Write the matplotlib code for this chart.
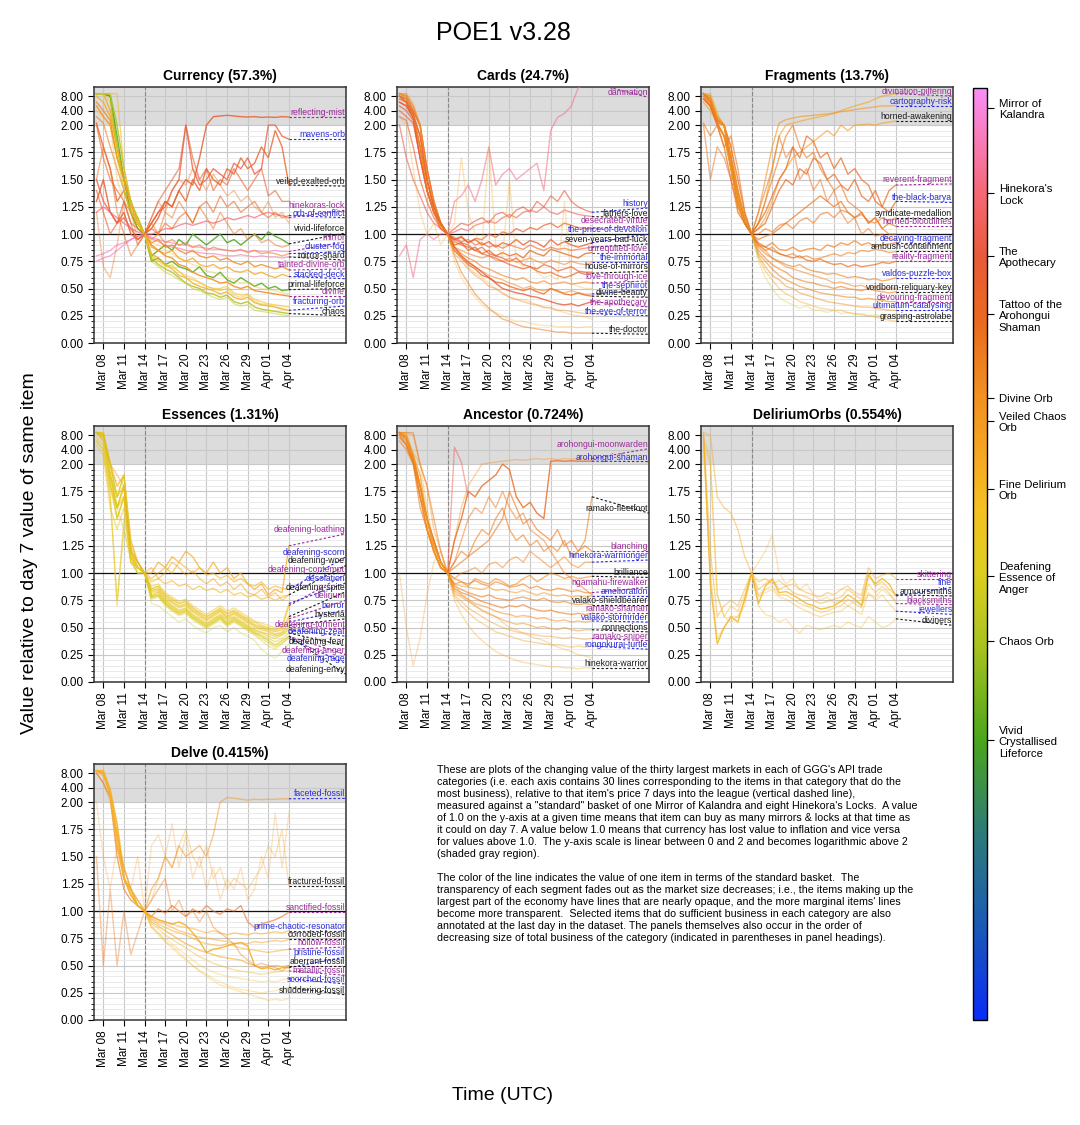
import numpy as np
import matplotlib
matplotlib.use('Agg')
import matplotlib.pyplot as plt
import matplotlib.dates as mdates
from matplotlib.colors import LinearSegmentedColormap, Normalize
from matplotlib.cm import ScalarMappable
from datetime import datetime, timedelta

plt.rcParams['font.family'] = ['Liberation Sans', 'DejaVu Sans']

nan = float('nan')

LEAGUE_START = datetime(2026, 3, 7)
DAYS = list(range(29))  # one value per day, Mar 07 .. Apr 04

panel_titles = ['Currency', 'Cards', 'Fragments', 'Essences', 'Ancestor', 'DeliriumOrbs', 'Delve']
panel_shares = ['57.3%', '24.7%', '13.7%', '1.31%', '0.724%', '0.554%', '0.415%']
label_offsets = [0, 0, 0, 0, 0, 0, 1]

# ---- Currency ----
currency_items = ['reflecting-mist', 'mavens-orb', 'veiled-exalted-orb', 'hinekoras-lock', 'orb-of-conflict',
                  'vivid-lifeforce', 'mirror', 'cluster-fog', 'mirror-shard', 'tainted-divine-orb',
                  'stacked-deck', 'primal-lifeforce', 'divine', 'fracturing-orb', 'chaos',
                  '', '', '', '', '', '', '']
currency_series = [
    [1.3, 1.5, 1.2, 1.1, 1.2, 1.0, 0.95, 1.0, 1.05, 1.15, 1.3, 1.25, 1.4, 1.5, 1.45, 1.7, 2.0, 3.0, 3.1, 3.2, 3.1, 3.0, 2.95, 3.0, 2.9, 2.95, 2.9, 3.0, 2.95],
    [1.5, 1.3, 1.2, 1.1, 1.15, 1.05, 0.95, 1.0, 1.1, 1.2, 1.25, 1.4, 1.5, 2.0, 1.6, 1.45, 1.5, 1.6, 1.55, 1.5, 1.65, 1.6, 1.7, 1.55, 1.6, 2.0, 2.0, 1.9, 1.87],
    [2.2, 1.8, 1.6, 1.3, 1.4, 1.2, 1.05, 1.0, 1.1, 1.2, 1.3, 1.25, 1.4, 1.3, 1.5, 1.4, 1.6, 1.5, 1.45, 1.6, 1.55, 1.7, 1.6, 1.65, 1.8, 1.7, 1.95, 1.8, 1.45],
    [1.2, 1.25, 1.2, 1.15, 1.1, 1.05, 1.02, 1.0, 1.0, 1.02, 1.05, 1.05, 1.08, 1.1, 1.08, 1.1, 1.12, 1.1, 1.12, 1.15, 1.13, 1.15, 1.17, 1.15, 1.18, 1.2, 1.18, 1.17, 1.15],
    [2.0, 1.7, 1.5, 1.4, 1.3, 1.1, 1.05, 1.0, 1.05, 1.0, 1.1, 1.05, 1.15, 1.2, 1.1, 1.25, 1.3, 1.2, 1.35, 1.25, 1.3, 1.2, 1.25, 1.3, 1.2, 1.15, 1.2, 1.15, 1.17],
    [9, 9, 8, 1.8, 1.5, 1.3, 1.1, 1.0, 0.8, 0.85, 0.9, 0.85, 0.95, 0.9, 1.0, 0.95, 0.9, 0.95, 1.0, 0.92, 0.95, 0.9, 0.95, 1.0, 0.95, 1.02, 0.98, 0.95, 0.91],
    [0.75, 0.78, 0.8, 0.85, 0.9, 0.95, 0.98, 1.0, 0.97, 0.95, 0.93, 0.92, 0.9, 0.9, 0.88, 0.88, 0.87, 0.86, 0.86, 0.85, 0.85, 0.85, 0.84, 0.85, 0.84, 0.84, 0.85, 0.84, 0.84],
    [3, 2.2, 1.8, 1.6, 1.4, 1.2, 1.1, 1.0, 0.95, 1.0, 0.92, 0.95, 0.9, 0.92, 0.88, 0.9, 0.85, 0.88, 0.86, 0.85, 0.84, 0.86, 0.83, 0.85, 0.82, 0.83, 0.82, 0.8, 0.82],
    [0.8, 0.82, 0.85, 0.9, 0.92, 0.95, 0.98, 1.0, 0.96, 0.93, 0.9, 0.88, 0.87, 0.85, 0.84, 0.83, 0.82, 0.82, 0.81, 0.8, 0.8, 0.81, 0.8, 0.79, 0.8, 0.79, 0.79, 0.78, 0.79],
    [6, 4, 2.5, 1.7, 1.5, 1.3, 1.1, 1.0, 0.92, 0.95, 0.88, 0.9, 0.85, 0.82, 0.85, 0.8, 0.78, 0.8, 0.76, 0.78, 0.74, 0.72, 0.75, 0.7, 0.72, 0.7, 0.68, 0.7, 0.67],
    [8, 6, 3, 1.8, 1.5, 1.2, 1.15, 1.0, 0.88, 0.85, 0.82, 0.85, 0.78, 0.75, 0.78, 0.72, 0.7, 0.72, 0.68, 0.7, 0.66, 0.65, 0.67, 0.63, 0.65, 0.62, 0.6, 0.63, 0.61],
    [9, 9, 8, 1.9, 1.5, 1.2, 1.05, 1.0, 0.75, 0.78, 0.72, 0.75, 0.7, 0.68, 0.65, 0.7, 0.62, 0.6, 0.65, 0.58, 0.55, 0.6, 0.56, 0.52, 0.55, 0.5, 0.52, 0.48, 0.49],
    [5, 3, 2, 1.7, 1.5, 1.3, 1.1, 1.0, 0.9, 0.85, 0.8, 0.78, 0.72, 0.7, 0.65, 0.62, 0.6, 0.58, 0.55, 0.56, 0.52, 0.5, 0.52, 0.48, 0.47, 0.46, 0.45, 0.44, 0.43],
    [9, 9, 4, 1.8, 1.5, 1.25, 1.1, 1.0, 0.82, 0.78, 0.72, 0.68, 0.62, 0.6, 0.55, 0.52, 0.5, 0.48, 0.45, 0.47, 0.42, 0.4, 0.42, 0.37, 0.35, 0.34, 0.33, 0.31, 0.30],
    [9, 9, 9, 2.0, 1.6, 1.3, 1.15, 1.0, 0.78, 0.72, 0.68, 0.65, 0.6, 0.55, 0.52, 0.5, 0.46, 0.45, 0.42, 0.44, 0.38, 0.36, 0.38, 0.33, 0.31, 0.3, 0.29, 0.28, 0.27],
    [9, 9, 6, 1.8, 1.4, 1.2, 1.1, 1.0, 0.8, 0.75, 0.7, 0.72, 0.65, 0.62, 0.6, 0.55, 0.52, 0.5, 0.48, 0.5, 0.44, 0.42, 0.44, 0.38, 0.36, 0.35, 0.33, 0.32, 0.3],
    [4, 3, 2, 1.5, 1.3, 1.2, 1.05, 1.0, 0.92, 0.9, 0.85, 0.82, 0.78, 0.75, 0.72, 0.7, 0.66, 0.65, 0.62, 0.6, 0.58, 0.55, 0.56, 0.52, 0.5, 0.49, 0.48, 0.46, 0.45],
    [1.2, 0.7, 0.6, 0.9, 1.3, 1.2, 0.95, 1.0, 1.15, 1.3, 1.2, 1.4, 1.5, 1.45, 1.6, 1.5, 1.4, 1.55, 1.45, 1.35, 1.4, 1.3, 1.35, 1.25, 1.2, 1.3, 1.15, 1.2, 1.1],
    [9, 9, 9, 1.7, 1.4, 1.2, 1.1, 1.0, 0.75, 0.7, 0.65, 0.62, 0.58, 0.55, 0.5, 0.48, 0.45, 0.42, 0.4, 0.42, 0.36, 0.34, 0.35, 0.3, 0.29, 0.28, 0.27, 0.26, 0.25],
    [1.4, 1.2, 1.0, 1.1, 1.3, 1.1, 0.9, 1.0, 1.15, 1.3, 1.4, 1.5, 1.6, 2.0, 1.7, 1.5, 1.6, 1.4, 1.5, 1.45, 1.6, 1.5, 1.4, 1.5, 1.6, 1.35, 1.4, 1.3, 1.3],
    [9, 9, 9, 9, 1.6, 1.3, 1.1, 1.0, 0.8, 0.76, 0.72, 0.7, 0.66, 0.6, 0.58, 0.56, 0.52, 0.5, 0.5, 0.52, 0.46, 0.44, 0.45, 0.4, 0.38, 0.36, 0.35, 0.34, 0.33],
    [1.5, 1.8, 1.6, 1.2, 1.0, 0.8, 0.9, 1.0, 1.1, 1.0, 1.2, 1.15, 1.3, 1.2, 1.1, 1.25, 1.15, 1.05, 1.2, 1.1, 1.0, 1.05, 0.95, 1.0, 0.92, 0.95, 0.9, 0.88, 0.9],
]
currency_tone = [0.80, 0.84, 0.78, 0.887, 0.76, 0.30, 0.98, 0.70, 0.93, 0.68, 0.60,
                 0.31, 0.667, 0.62, 0.41, 0.50, 0.58, 0.73, 0.45, 0.79, 0.55, 0.74]
currency_alpha = [0.85, 0.8, 0.8, 0.7, 0.6, 0.85, 0.7, 0.6, 0.6, 0.8, 0.8,
                  0.85, 0.9, 0.75, 0.85, 0.5, 0.35, 0.4, 0.5, 0.6, 0.6, 0.5]
currency_label_y = [2.95, 1.87, 1.44, 1.22, 1.15, 1.01, 0.93, 0.84, 0.76, 0.68, 0.59,
                    0.50, 0.43, 0.34, 0.25, nan, nan, nan, nan, nan, nan, nan]

# ---- Cards ----
cards_items = ['damnation', 'history', 'fathers-love', 'desecrated-virtue', 'the-price-of-devotion',
               'seven-years-bad-luck', 'unrequited-love', 'the-immortal', 'house-of-mirrors',
               'love-through-ice', 'the-sephirot', 'divine-beauty', 'the-apothecary',
               'the-eye-of-terror', 'the-doctor', '', '', '', '']
cards_series = [
    [0.8, 0.9, 0.6, 0.95, 1.0, 0.95, 1.0, 1.0, 1.3, 1.35, 1.45, 1.3, 1.5, 1.8, 1.45, 1.55, 1.6, 1.5, 1.55, 1.6, 1.65, 1.4, 1.95, 2.9, 3.5, 5, 12, 14, 15],
    [4, 3, 2.2, 1.7, 1.4, 1.2, 1.1, 1.0, 1.05, 1.1, 1.08, 1.12, 1.15, 1.1, 1.18, 1.2, 1.15, 1.22, 1.25, 1.2, 1.3, 1.25, 1.35, 1.3, 1.4, 1.3, 1.25, 1.22, 1.2],
    [2, 1.7, 1.5, 1.35, 1.2, 1.1, 1.05, 1.0, 1.02, 1.05, 1.03, 1.08, 1.1, 1.12, 1.1, 1.15, 1.18, 1.15, 1.2, 1.22, 1.2, 1.25, 1.2, 1.18, 1.22, 1.2, 1.18, 1.17, 1.16],
    [6, 5, 3, 1.8, 1.5, 1.25, 1.1, 1.0, 0.95, 0.98, 0.92, 0.96, 0.95, 1.0, 0.97, 1.02, 1.0, 1.05, 1.02, 1.06, 1.04, 1.08, 1.1, 1.06, 1.1, 1.08, 1.06, 1.05, 1.05],
    [8, 7, 4, 2.0, 1.6, 1.3, 1.1, 1.0, 0.95, 0.97, 0.92, 0.95, 0.9, 0.93, 0.88, 0.92, 0.9, 0.95, 0.9, 0.94, 0.92, 0.88, 0.95, 0.9, 0.93, 0.9, 0.88, 0.9, 0.92],
    [3, 2.5, 1.8, 1.5, 1.3, 1.15, 1.05, 1.0, 0.97, 0.93, 0.95, 0.9, 0.92, 0.88, 0.9, 0.87, 0.9, 0.88, 0.86, 0.9, 0.87, 0.85, 0.88, 0.86, 0.87, 0.85, 0.86, 0.87, 0.88],
    [8, 6, 3, 1.9, 1.5, 1.25, 1.1, 1.0, 0.9, 0.92, 0.85, 0.88, 0.82, 0.85, 0.8, 0.83, 0.8, 0.82, 0.78, 0.85, 0.82, 0.8, 0.86, 0.84, 0.82, 0.8, 0.78, 0.82, 0.83],
    [9, 8, 4, 2.0, 1.6, 1.3, 1.1, 1.0, 0.88, 0.85, 0.82, 0.8, 0.78, 0.8, 0.76, 0.75, 0.78, 0.74, 0.76, 0.78, 0.75, 0.73, 0.76, 0.74, 0.72, 0.75, 0.73, 0.72, 0.74],
    [5, 4, 2.5, 1.7, 1.4, 1.2, 1.08, 1.0, 0.93, 0.9, 0.88, 0.85, 0.82, 0.8, 0.78, 0.75, 0.72, 0.7, 0.68, 0.7, 0.66, 0.64, 0.65, 0.62, 0.6, 0.62, 0.65, 0.63, 0.64],
    [9, 7, 3.5, 1.8, 1.4, 1.2, 1.08, 1.0, 0.88, 0.82, 0.78, 0.75, 0.7, 0.68, 0.65, 0.62, 0.6, 0.58, 0.6, 0.56, 0.55, 0.57, 0.54, 0.55, 0.56, 0.54, 0.55, 0.56, 0.55],
    [9, 8, 4, 2.0, 1.5, 1.2, 1.1, 1.0, 0.85, 0.8, 0.75, 0.7, 0.66, 0.62, 0.6, 0.58, 0.55, 0.53, 0.5, 0.52, 0.49, 0.48, 0.5, 0.47, 0.46, 0.48, 0.46, 0.45, 0.45],
    [8, 6, 3, 1.8, 1.4, 1.2, 1.1, 1.0, 0.85, 0.78, 0.72, 0.68, 0.62, 0.6, 0.56, 0.55, 0.52, 0.5, 0.48, 0.5, 0.47, 0.45, 0.5, 0.48, 0.45, 0.44, 0.46, 0.44, 0.43],
    [6, 5, 2.8, 1.7, 1.4, 1.2, 1.05, 1.0, 0.88, 0.8, 0.74, 0.7, 0.65, 0.6, 0.55, 0.5, 0.48, 0.46, 0.45, 0.43, 0.42, 0.4, 0.38, 0.36, 0.35, 0.36, 0.34, 0.36, 0.38],
    [9, 8, 5, 2.0, 1.5, 1.25, 1.1, 1.0, 0.82, 0.75, 0.68, 0.62, 0.58, 0.52, 0.5, 0.46, 0.42, 0.4, 0.38, 0.36, 0.35, 0.33, 0.32, 0.3, 0.3, 0.29, 0.28, 0.27, 0.27],
    [9, 9, 5, 2.0, 1.6, 1.3, 1.1, 1.0, 0.8, 0.65, 0.55, 0.45, 0.38, 0.32, 0.27, 0.22, 0.2, 0.17, 0.15, 0.14, 0.13, 0.12, 0.11, 0.1, 0.1, 0.09, 0.09, 0.09, 0.09],
    [9, 9, 6, 2.0, 1.5, 1.3, 1.1, 1.0, 0.75, 0.6, 0.5, 0.42, 0.35, 0.3, 0.28, 0.25, 0.22, 0.2, 0.2, 0.18, 0.17, 0.16, 0.16, 0.15, 0.15, 0.15, 0.14, 0.15, 0.15],
    [3, 2, 1.6, 1.2, 1.0, 1.1, 0.9, 1.0, 1.1, 1.7, 1.2, 1.0, 0.9, 1.8, 0.9, 0.8, 1.5, 0.75, 0.7, 0.8, 0.65, 0.6, 0.62, 0.58, 1.3, 0.55, 0.52, 0.5, 0.5],
    [9, 8, 3, 1.8, 1.4, 1.2, 1.05, 1.0, 0.85, 0.78, 0.7, 0.64, 0.6, 0.55, 0.5, 0.45, 0.42, 0.4, 0.4, 0.38, 0.35, 0.32, 0.33, 0.3, 0.28, 0.26, 0.25, 0.24, 0.22],
    [7, 6, 3.5, 1.9, 1.5, 1.25, 1.1, 1.0, 0.95, 0.92, 0.9, 0.85, 0.88, 0.82, 0.8, 0.78, 0.75, 0.78, 0.72, 0.7, 0.68, 0.72, 0.7, 0.66, 0.68, 0.7, 0.66, 0.65, 0.65],
]
cards_tone = [0.90, 0.82, 0.85, 0.78, 0.80, 0.80, 0.74, 0.72, 0.78, 0.70,
              0.70, 0.74, 0.82, 0.70, 0.72, 0.58, 0.60, 0.62, 0.80]
cards_alpha = [0.55, 0.6, 0.6, 0.7, 0.8, 0.6, 0.8, 0.5, 0.7, 0.6,
               0.5, 0.8, 0.8, 0.4, 0.5, 0.3, 0.3, 0.3, 0.7]
cards_label_y = [7.5, 1.24, 1.15, 1.08, 1.0, 0.91, 0.83, 0.74, 0.66, 0.57,
                 0.49, 0.42, 0.33, 0.25, 0.08, nan, nan, nan, nan]

# ---- Fragments ----
fragments_items = ['divination-pilfering', 'cartography-risk', 'horned-awakening', 'reverent-fragment',
                   'the-black-barya', 'syndicate-medallion', 'horned-bloodlines', 'decaying-fragment',
                   'ambush-containment', 'reality-fragment', 'valdos-puzzle-box', 'voidborn-reliquary-key',
                   'devouring-fragment', 'ultimatum-catalysing', 'grasping-astrolabe', '', '', '', '']
fragments_series = [
    [9, 6, 3, 2.0, 1.8, 1.4, 1.1, 1.0, 1.1, 1.3, 1.6, 1.9, 2.0, 2.2, 2.4, 2.6, 2.8, 3.0, 3.2, 3.5, 4, 4.5, 5, 5.5, 6, 7, 8, 8.5, 9],
    [8, 5, 2.5, 2.0, 1.7, 1.4, 1.1, 1.0, 1.2, 1.5, 1.8, 2.2, 2.6, 2.8, 3.0, 3.1, 3.2, 3.3, 3.4, 3.6, 3.8, 4.0, 4.2, 4.4, 4.6, 4.8, 5.0, 5.0, 5.1],
    [6, 4, 2.2, 1.9, 1.7, 1.3, 1.1, 1.0, 1.05, 1.15, 1.3, 1.5, 1.6, 1.7, 1.75, 1.8, 1.85, 1.9, 1.95, 1.9, 2.0, 1.95, 2.0, 2.05, 2.1, 2.0, 2.2, 2.3, 2.45],
    [9, 6, 2.5, 2.0, 1.8, 1.5, 1.2, 1.0, 1.1, 1.2, 1.35, 1.5, 1.6, 1.8, 1.7, 1.9, 1.85, 1.7, 1.75, 1.6, 1.7, 1.55, 1.6, 1.5, 1.45, 1.3, 1.25, 1.4, 1.45],
    [7, 5, 2.2, 2.0, 1.7, 1.4, 1.15, 1.0, 1.05, 1.1, 1.25, 1.4, 1.5, 1.45, 1.6, 1.55, 1.7, 1.65, 1.5, 1.55, 1.45, 1.4, 1.5, 1.35, 1.3, 1.4, 1.25, 1.2, 1.3],
    [8, 5, 2, 1.9, 1.6, 1.3, 1.1, 1.0, 1.0, 1.05, 1.02, 1.08, 1.1, 1.05, 1.12, 1.15, 1.1, 1.18, 1.2, 1.15, 1.22, 1.2, 1.15, 1.18, 1.12, 1.1, 1.15, 1.12, 1.15],
    [9, 7, 2.5, 2.0, 1.7, 1.35, 1.15, 1.0, 0.95, 0.98, 1.0, 1.05, 1.1, 1.15, 1.2, 1.25, 1.3, 1.35, 1.3, 1.25, 1.3, 1.2, 1.15, 1.2, 1.1, 1.15, 1.05, 1.1, 1.07],
    [9, 6, 2.2, 1.9, 1.6, 1.3, 1.1, 1.0, 0.9, 0.88, 0.92, 0.86, 0.85, 0.88, 0.84, 0.86, 0.87, 0.85, 0.9, 0.88, 0.92, 0.9, 0.94, 0.9, 0.92, 0.88, 0.9, 0.91, 0.92],
    [9, 7, 2.5, 2.0, 1.6, 1.3, 1.1, 1.0, 0.9, 0.85, 0.88, 0.82, 0.8, 0.82, 0.78, 0.8, 0.77, 0.78, 0.8, 0.82, 0.8, 0.83, 0.82, 0.85, 0.84, 0.86, 0.85, 0.83, 0.84],
    [7, 5, 2, 1.8, 1.5, 1.25, 1.1, 1.0, 0.92, 0.88, 0.85, 0.82, 0.8, 0.78, 0.8, 0.76, 0.75, 0.77, 0.74, 0.72, 0.73, 0.7, 0.72, 0.7, 0.71, 0.72, 0.74, 0.73, 0.75],
    [9, 6, 2.5, 2.0, 1.7, 1.3, 1.1, 1.0, 0.88, 0.82, 0.78, 0.75, 0.72, 0.7, 0.72, 0.68, 0.66, 0.65, 0.63, 0.64, 0.62, 0.6, 0.61, 0.6, 0.58, 0.59, 0.57, 0.58, 0.6],
    [9, 8, 3, 2.0, 1.6, 1.3, 1.1, 1.0, 0.85, 0.78, 0.72, 0.68, 0.65, 0.6, 0.58, 0.56, 0.55, 0.53, 0.52, 0.5, 0.52, 0.5, 0.49, 0.48, 0.5, 0.48, 0.47, 0.46, 0.47],
    [9, 7, 2.8, 2.0, 1.6, 1.3, 1.1, 1.0, 0.82, 0.75, 0.68, 0.62, 0.58, 0.55, 0.52, 0.5, 0.48, 0.46, 0.45, 0.44, 0.43, 0.42, 0.42, 0.4, 0.41, 0.4, 0.39, 0.38, 0.38],
    [9, 8, 3, 2.0, 1.7, 1.35, 1.15, 1.0, 0.8, 0.7, 0.62, 0.58, 0.52, 0.5, 0.46, 0.44, 0.42, 0.4, 0.38, 0.37, 0.36, 0.35, 0.34, 0.33, 0.33, 0.32, 0.31, 0.3, 0.3],
    [9, 9, 3.5, 2.0, 1.7, 1.4, 1.15, 1.0, 0.78, 0.66, 0.58, 0.5, 0.45, 0.42, 0.38, 0.36, 0.34, 0.32, 0.31, 0.3, 0.3, 0.28, 0.27, 0.26, 0.25, 0.24, 0.22, 0.21, 0.2],
    [9, 9, 4, 1.9, 1.6, 1.3, 1.1, 1.0, 0.75, 0.6, 0.5, 0.42, 0.38, 0.35, 0.32, 0.34, 0.3, 0.3, 0.28, 0.3, 0.27, 0.28, 0.26, 0.27, 0.25, 0.26, 0.24, 0.25, 0.25],
    [2, 1.5, 1.8, 1.7, 1.5, 1.2, 1.1, 1.0, 1.2, 1.4, 1.6, 1.9, 1.7, 1.8, 1.5, 1.6, 1.4, 1.5, 1.3, 1.4, 1.2, 1.1, 1.15, 1.0, 1.05, 0.98, 1.0, 0.96, 0.95],
    [2.2, 1.9, 2.0, 1.8, 1.9, 1.6, 1.2, 1.0, 1.1, 1.3, 1.5, 1.7, 1.9, 2.0, 1.8, 1.7, 1.75, 1.6, 1.5, 1.4, 1.45, 1.3, 1.25, 1.2, 1.1, 1.15, 1.05, 1.0, 1.0],
    [9, 6, 2.2, 1.9, 1.7, 1.2, 1.1, 1.0, 0.9, 0.85, 0.78, 0.74, 0.7, 0.68, 0.66, 0.64, 0.62, 0.6, 0.58, 0.55, 0.56, 0.54, 0.52, 0.53, 0.5, 0.52, 0.5, 0.51, 0.5],
]
fragments_tone = [0.62, 0.66, 0.64, 0.75, 0.76, 0.72, 0.72, 0.70, 0.70, 0.74,
                  0.70, 0.70, 0.68, 0.66, 0.62, 0.45, 0.74, 0.72, 0.70]
fragments_alpha = [0.6, 0.6, 0.6, 0.7, 0.7, 0.6, 0.7, 0.7, 0.6, 0.7,
                   0.6, 0.6, 0.6, 0.5, 0.4, 0.3, 0.5, 0.6, 0.5]
fragments_label_y = [8.0, 5.1, 2.45, 1.46, 1.29, 1.15, 1.07, 0.92, 0.84, 0.75,
                     0.60, 0.47, 0.38, 0.30, 0.20, nan, nan, nan, nan]

# ---- Essences ----
essences_items = ['deafening-loathing', 'deafening-scorn', 'deafening-woe', 'deafening-contempt',
                  'desolation', 'deafening-spite', 'delirium', 'horror', 'hysteria',
                  'deafening-torment', 'deafening-zeal', 'deafening-fear', 'deafening-anger',
                  'deafening-rage', 'deafening-envy', '', '']
essences_series = [
    [9, 6, 2.0, 1.8, 1.9, 1.3, 1.1, 1.0, 1.0, 1.1, 1.05, 1.15, 1.1, 1.2, 1.15, 1.05, 1.0, 1.1, 1.0, 1.05, 0.95, 1.0, 0.9, 0.85, 0.9, 0.8, 0.85, 0.82, 1.25],
    [9, 7, 1.9, 1.7, 1.8, 1.2, 1.05, 1.0, 0.95, 1.0, 1.05, 1.0, 1.1, 1.05, 1.0, 1.05, 0.98, 1.0, 0.95, 0.98, 0.92, 0.95, 0.9, 0.88, 0.92, 0.85, 0.88, 0.86, 0.85],
    [9, 8, 1.8, 1.6, 1.7, 1.15, 1.05, 1.0, 0.92, 0.95, 0.9, 0.93, 0.88, 0.9, 0.85, 0.88, 0.84, 0.86, 0.82, 0.85, 0.8, 0.82, 0.78, 0.8, 0.76, 0.78, 0.75, 0.78, 0.8],
    [9, 7, 1.9, 1.5, 1.7, 1.1, 1.05, 1.0, 0.85, 0.88, 0.8, 0.76, 0.72, 0.74, 0.68, 0.64, 0.6, 0.64, 0.68, 0.63, 0.66, 0.62, 0.58, 0.55, 0.52, 0.5, 0.48, 0.5, 0.7],
    [6, 4, 1.7, 0.7, 1.5, 1.2, 1.1, 1.0, 0.88, 0.9, 0.82, 0.78, 0.74, 0.76, 0.7, 0.66, 0.62, 0.66, 0.7, 0.65, 0.68, 0.64, 0.6, 0.56, 0.54, 0.52, 0.5, 0.52, 0.72],
    [9, 8, 1.8, 1.6, 1.8, 1.15, 1.05, 1.0, 0.84, 0.86, 0.78, 0.74, 0.7, 0.72, 0.66, 0.62, 0.58, 0.62, 0.66, 0.6, 0.64, 0.6, 0.56, 0.52, 0.5, 0.48, 0.46, 0.48, 0.6],
    [5, 3, 1.6, 1.4, 1.6, 1.1, 1.05, 1.0, 0.86, 0.88, 0.8, 0.76, 0.72, 0.74, 0.68, 0.63, 0.6, 0.63, 0.67, 0.62, 0.65, 0.61, 0.57, 0.53, 0.51, 0.49, 0.47, 0.5, 0.58],
    [6, 4, 1.7, 0.75, 1.4, 1.15, 1.0, 1.0, 0.83, 0.85, 0.78, 0.73, 0.69, 0.71, 0.65, 0.61, 0.57, 0.61, 0.65, 0.59, 0.63, 0.59, 0.55, 0.51, 0.49, 0.47, 0.44, 0.46, 0.55],
    [7, 5, 1.8, 1.5, 1.7, 1.1, 1.0, 1.0, 0.82, 0.84, 0.76, 0.72, 0.68, 0.7, 0.64, 0.6, 0.56, 0.6, 0.64, 0.58, 0.62, 0.58, 0.54, 0.5, 0.48, 0.46, 0.43, 0.45, 0.52],
    [9, 8, 1.9, 1.6, 1.8, 1.2, 1.05, 1.0, 0.8, 0.83, 0.75, 0.7, 0.66, 0.68, 0.62, 0.58, 0.54, 0.58, 0.62, 0.57, 0.6, 0.56, 0.52, 0.48, 0.46, 0.44, 0.42, 0.44, 0.5],
    [9, 9, 2.0, 1.7, 1.9, 1.2, 1.1, 1.0, 0.79, 0.82, 0.74, 0.69, 0.65, 0.67, 0.61, 0.57, 0.53, 0.57, 0.61, 0.55, 0.59, 0.55, 0.51, 0.47, 0.45, 0.42, 0.4, 0.43, 0.48],
    [9, 8, 1.9, 1.6, 1.8, 1.15, 1.05, 1.0, 0.78, 0.8, 0.73, 0.68, 0.64, 0.66, 0.6, 0.56, 0.52, 0.56, 0.6, 0.54, 0.58, 0.54, 0.5, 0.46, 0.43, 0.4, 0.37, 0.4, 0.45],
    [9, 9, 2.0, 1.7, 1.9, 1.25, 1.1, 1.0, 0.78, 0.8, 0.72, 0.67, 0.63, 0.65, 0.59, 0.55, 0.51, 0.55, 0.59, 0.53, 0.57, 0.53, 0.49, 0.45, 0.42, 0.38, 0.34, 0.38, 0.42],
    [9, 8, 1.9, 1.6, 1.8, 1.2, 1.05, 1.0, 0.77, 0.79, 0.71, 0.66, 0.62, 0.64, 0.58, 0.54, 0.5, 0.54, 0.58, 0.52, 0.56, 0.52, 0.48, 0.44, 0.4, 0.36, 0.32, 0.36, 0.4],
    [9, 7, 1.8, 1.5, 1.7, 1.15, 1.0, 1.0, 0.76, 0.78, 0.7, 0.65, 0.61, 0.63, 0.57, 0.53, 0.49, 0.53, 0.57, 0.51, 0.55, 0.51, 0.47, 0.43, 0.38, 0.33, 0.3, 0.35, 0.42],
    [9, 8, 2.0, 1.9, 1.8, 1.2, 1.1, 1.0, 1.05, 0.95, 1.0, 1.1, 1.05, 0.98, 1.02, 0.95, 0.9, 0.95, 0.88, 0.92, 0.85, 0.9, 0.82, 0.8, 0.85, 0.78, 0.82, 0.75, 0.8],
    [9, 9, 2, 1.6, 1.4, 1.1, 1.0, 1.0, 0.72, 0.7, 0.65, 0.6, 0.55, 0.58, 0.52, 0.48, 0.45, 0.5, 0.52, 0.46, 0.5, 0.45, 0.42, 0.38, 0.3, 0.25, 0.22, 0.28, 0.35],
]
essences_tone = [0.60, 0.58, 0.56, 0.54, 0.52, 0.53, 0.52, 0.51, 0.51, 0.52,
                 0.50, 0.50, 0.476, 0.49, 0.49, 0.62, 0.44]
essences_alpha = [0.7, 0.6, 0.6, 0.6, 0.5, 0.6, 0.5, 0.5, 0.5, 0.6,
                  0.6, 0.5, 0.7, 0.5, 0.4, 0.5, 0.3]
essences_label_y = [1.36, 1.15, 1.07, 0.99, 0.91, 0.83, 0.75, 0.66, 0.58, 0.49,
                    0.42, 0.33, 0.25, 0.17, 0.07, nan, nan]

# ---- Ancestor ----
ancestor_items = ['arohongui-moonwarden', 'arohongui-shaman', 'ramako-fleetfoot', 'blanching',
                  'hinekora-warmonger', 'brilliance', 'ngamahu-firewalker', 'amelioration',
                  'valako-shieldbearer', 'ramako-shaman', 'valako-stormrider', 'connections',
                  'ramako-sniper', 'rongokurai-turtle', 'hinekora-warrior', '', '', '']
ancestor_series = [
    [9, 9, 8, 2.0, 1.8, 1.4, 1.2, 1.0, 1.3, 1.6, 1.8, 1.9, 2.0, 2.1, 2.2, 2.3, 2.4, 2.5, 2.4, 2.5, 2.6, 2.5, 2.6, 2.5, 2.6, 2.55, 2.6, 2.6, 2.6],
    [9, 7, 3, 1.8, 1.5, 1.3, 1.1, 1.0, 1.3, 1.5, 1.75, 1.7, 1.8, 1.85, 1.9, 2.0, 1.95, 1.7, 1.6, 1.65, 1.55, 1.5, 2.3, 2.35, 2.3, 2.35, 2.3, 2.3, 2.3],
    [6, 4, 2, 1.7, 1.5, 1.3, 1.1, 1.0, 1.1, 1.2, 1.15, 1.3, 1.4, 1.35, 1.5, 1.6, 1.4, 1.3, 1.35, 1.25, 1.3, 1.2, 1.25, 1.2, 1.3, 1.15, 1.2, 1.3, 1.7],
    [8, 5, 2.2, 1.8, 1.5, 1.3, 1.1, 1.0, 1.05, 1.1, 1.15, 1.2, 1.25, 1.3, 1.4, 1.5, 1.75, 1.6, 1.45, 1.5, 1.4, 1.35, 1.3, 1.4, 1.25, 1.3, 1.2, 1.25, 1.2],
    [9, 6, 2.5, 1.8, 1.5, 1.25, 1.1, 1.0, 0.95, 1.0, 1.02, 1.05, 1.0, 1.08, 1.1, 1.05, 1.12, 1.15, 1.1, 1.2, 1.15, 1.1, 1.05, 1.1, 1.15, 1.08, 1.05, 1.1, 1.1],
    [9, 7, 2.5, 1.7, 1.4, 1.2, 1.05, 1.0, 0.9, 0.92, 0.88, 0.95, 0.92, 0.9, 0.95, 0.92, 0.88, 0.9, 0.95, 0.98, 0.92, 0.96, 1.0, 0.98, 0.95, 0.97, 0.95, 0.96, 0.97],
    [7, 5, 2, 1.6, 1.4, 1.2, 1.05, 1.0, 0.95, 0.92, 0.9, 0.93, 0.9, 0.88, 0.92, 0.9, 0.87, 0.88, 0.9, 0.86, 0.88, 0.85, 0.84, 0.86, 0.85, 0.83, 0.84, 0.82, 0.82],
    [9, 6, 2.2, 1.7, 1.4, 1.2, 1.05, 1.0, 0.9, 0.88, 0.87, 0.86, 0.85, 0.87, 0.84, 0.85, 0.83, 0.82, 0.84, 0.82, 0.8, 0.82, 0.8, 0.79, 0.8, 0.78, 0.79, 0.78, 0.79],
    [9, 7, 2.5, 1.8, 1.5, 1.25, 1.1, 1.0, 0.88, 0.85, 0.82, 0.8, 0.78, 0.8, 0.77, 0.76, 0.75, 0.77, 0.78, 0.76, 0.75, 0.77, 0.74, 0.73, 0.74, 0.72, 0.71, 0.72, 0.71],
    [8, 5, 2.2, 1.7, 1.4, 1.2, 1.05, 1.0, 0.86, 0.82, 0.8, 0.77, 0.74, 0.72, 0.7, 0.68, 0.7, 0.69, 0.71, 0.68, 0.66, 0.65, 0.66, 0.64, 0.63, 0.62, 0.63, 0.62, 0.63],
    [9, 8, 3, 1.8, 1.5, 1.2, 1.05, 1.0, 0.84, 0.8, 0.76, 0.72, 0.7, 0.68, 0.65, 0.63, 0.62, 0.6, 0.61, 0.6, 0.58, 0.59, 0.57, 0.56, 0.57, 0.55, 0.56, 0.55, 0.56],
    [9, 8, 3, 1.9, 1.5, 1.25, 1.1, 1.0, 0.82, 0.78, 0.74, 0.7, 0.66, 0.63, 0.6, 0.57, 0.55, 0.53, 0.54, 0.52, 0.5, 0.51, 0.49, 0.48, 0.5, 0.48, 0.47, 0.48, 0.48],
    [9, 7, 2.8, 1.8, 1.4, 1.2, 1.05, 1.0, 0.8, 0.74, 0.68, 0.64, 0.6, 0.56, 0.53, 0.5, 0.48, 0.46, 0.45, 0.44, 0.43, 0.42, 0.42, 0.41, 0.4, 0.41, 0.4, 0.39, 0.4],
    [9, 8, 3, 1.9, 1.5, 1.2, 1.05, 1.0, 0.78, 0.7, 0.64, 0.58, 0.54, 0.5, 0.46, 0.44, 0.42, 0.4, 0.38, 0.37, 0.36, 0.35, 0.34, 0.34, 0.33, 0.32, 0.33, 0.32, 0.33],
    [9, 9, 3.5, 2.0, 1.6, 1.25, 1.1, 1.0, 0.75, 0.62, 0.52, 0.44, 0.38, 0.33, 0.28, 0.25, 0.22, 0.2, 0.18, 0.17, 0.16, 0.15, 0.14, 0.14, 0.13, 0.13, 0.12, 0.13, 0.13],
    [nan, nan, nan, nan, nan, nan, nan, 1.0, 4.5, 2.2, 1.7, nan, nan, nan, nan, nan, nan, nan, nan, nan, nan, nan, nan, nan, nan, nan, nan, nan, nan],
    [9, 9, 9, 2.0, 1.8, 1.5, 1.2, 1.0, 1.1, 1.3, 1.5, 1.6, 1.55, 1.7, 1.6, 1.75, 1.6, 1.5, 1.55, 1.4, 1.35, 1.3, 1.2, 1.1, 1.0, 0.95, 0.9, 0.85, 0.8],
    [1.0, 0.5, 0.15, 0.4, 0.8, 1.1, 1.2, 1.0, 0.9, 0.8, 0.75, 0.7, 0.65, 0.62, 0.6, 0.55, 0.5, 0.48, 0.45, 0.42, 0.4, 0.38, 0.35, 0.32, 0.3, 0.28, 0.25, 0.24, 0.22],
]
ancestor_tone = [0.66, 0.757, 0.70, 0.72, 0.70, 0.68, 0.70, 0.66, 0.70, 0.72,
                 0.68, 0.66, 0.66, 0.62, 0.60, 0.86, 0.72, 0.64]
ancestor_alpha = [0.4, 0.8, 0.6, 0.6, 0.5, 0.6, 0.6, 0.5, 0.6, 0.6,
                  0.5, 0.5, 0.4, 0.4, 0.35, 0.5, 0.5, 0.3]
ancestor_label_y = [4.2, 2.26, 1.55, 1.20, 1.12, 0.96, 0.87, 0.79, 0.71, 0.63,
                    0.55, 0.46, 0.38, 0.30, 0.13, nan, nan, nan]

# ---- DeliriumOrbs ----
delirium_items = ['skittering', 'fine', 'armoursmiths', 'blacksmiths', 'jewellers', 'diviners', '']
delirium_series = [
    [9, 8, 1.7, 1.6, 1.55, 1.4, 1.15, 1.0, 0.92, 0.95, 0.9, 0.93, 0.88, 0.9, 0.85, 0.82, 0.8, 0.78, 0.82, 0.8, 0.85, 0.88, 0.82, 0.8, 1.05, 0.95, 0.98, 1.0, 0.95],
    [8, 0.9, 0.35, 0.5, 0.6, 0.55, 0.76, 1.0, 0.72, 0.88, 0.94, 0.82, 0.83, 0.8, 0.76, 0.72, 0.7, 0.67, 0.68, 0.7, 0.74, 0.8, 0.76, 0.7, 0.98, 0.9, 0.95, 0.9, 0.79],
    [9, 1.2, 0.6, 0.7, 0.75, 0.7, 0.85, 1.0, 0.85, 0.9, 0.95, 0.85, 0.88, 0.82, 0.8, 0.78, 0.75, 0.72, 0.74, 0.76, 0.78, 0.85, 0.8, 0.76, 1.0, 0.88, 0.92, 0.85, 0.8],
    [7, 2.5, 0.8, 0.6, 0.7, 0.65, 0.8, 1.0, 0.8, 0.85, 0.88, 0.8, 0.8, 0.76, 0.72, 0.7, 0.67, 0.64, 0.65, 0.68, 0.7, 0.76, 0.72, 0.68, 0.9, 0.82, 0.88, 0.82, 0.72],
    [6, 1.0, 0.4, 0.5, 0.6, 0.6, 0.75, 1.0, 0.78, 0.82, 0.85, 0.78, 0.76, 0.72, 0.68, 0.65, 0.62, 0.6, 0.62, 0.64, 0.65, 0.7, 0.66, 0.62, 0.82, 0.75, 0.8, 0.72, 0.65],
    [5, 2, 0.8, 0.6, 0.55, 0.6, 0.7, 1.0, 0.7, 0.62, 0.6, 0.55, 0.58, 0.5, 0.45, 0.52, 0.5, 0.48, 0.5, 0.52, 0.5, 0.55, 0.52, 0.5, 0.6, 0.55, 0.5, 0.52, 0.58],
    [nan, nan, nan, nan, nan, nan, nan, 1.0, 1.1, 1.2, 1.35, 1.0, 0.9, 0.95, 0.85, 0.9, 0.8, 0.75, 0.78, 0.72, 0.75, 0.7, 0.74, 0.72, 0.8, 0.78, 0.85, 0.8, 0.75],
]
delirium_tone = [0.60, 0.569, 0.60, 0.58, 0.58, 0.56, 0.60]
delirium_alpha = [0.45, 0.85, 0.45, 0.4, 0.35, 0.35, 0.3]
delirium_label_y = [0.95, 0.87, 0.79, 0.71, 0.62, 0.52, nan]

# ---- Delve ----
delve_items = ['faceted-fossil', 'fractured-fossil', 'sanctified-fossil', 'prime-chaotic-resonator',
               'corroded-fossil', 'hollow-fossil', 'pristine-fossil', 'aberrant-fossil',
               'metallic-fossil', 'scorched-fossil', 'shuddering-fossil', '', '', '']
delve_series = [
    [9, 8, 3, 1.7, 1.4, 1.2, 1.1, 1.0, 1.2, 1.3, 1.5, 1.4, 1.6, 1.5, 1.55, 1.6, 1.5, 1.7, 2.0, 2.5, 2.4, 2.3, 2.2, 2.3, 2.25, 2.3, 2.3, 2.35, 2.35],
    [8, 5, 2, 1.7, 1.4, 1.2, 1.1, 1.0, 1.1, 1.3, 1.5, 1.4, 1.6, 1.75, 1.5, 1.4, 1.6, 1.3, 1.4, 1.2, 1.3, 1.25, 1.2, 1.3, 1.4, 1.6, 1.5, 1.75, 1.23],
    [8, 5, 2.5, 1.5, 1.2, 1.1, 1.05, 1.0, 0.95, 1.02, 0.98, 1.05, 1.0, 0.95, 1.02, 0.98, 1.05, 1.0, 0.97, 1.02, 1.0, 1.05, 0.9, 0.85, 0.88, 0.9, 0.92, 0.95, 0.99],
    [9, 7, 3, 1.6, 1.3, 1.15, 1.05, 1.0, 0.95, 0.92, 0.9, 0.88, 0.86, 0.85, 0.84, 0.82, 0.8, 0.82, 0.8, 0.78, 0.8, 0.79, 0.78, 0.8, 0.79, 0.8, 0.81, 0.8, 0.82],
    [9, 8, 3, 1.6, 1.3, 1.15, 1.05, 1.0, 0.93, 0.9, 0.88, 0.85, 0.82, 0.8, 0.78, 0.76, 0.75, 0.74, 0.73, 0.72, 0.7, 0.71, 0.7, 0.72, 0.71, 0.72, 0.73, 0.72, 0.74],
    [9, 8, 3, 1.7, 1.3, 1.2, 1.05, 1.0, 0.92, 0.88, 0.85, 0.82, 0.8, 0.78, 0.75, 0.72, 0.7, 0.69, 0.68, 0.7, 0.68, 0.66, 0.65, 0.64, 0.63, 0.62, 0.63, 0.64, 0.65],
    [9, 9, 3.5, 1.8, 1.3, 1.2, 1.05, 1.0, 0.95, 0.92, 0.9, 0.88, 0.9, 0.87, 0.8, 0.72, 0.62, 0.65, 0.66, 0.68, 0.7, 0.71, 0.68, 0.5, 0.47, 0.48, 0.46, 0.48, 0.48],
    [9, 8, 3, 1.7, 1.3, 1.15, 1.05, 1.0, 0.9, 0.86, 0.82, 0.78, 0.74, 0.7, 0.67, 0.64, 0.62, 0.6, 0.58, 0.57, 0.56, 0.55, 0.52, 0.5, 0.48, 0.49, 0.5, 0.49, 0.5],
    [9, 8, 3, 1.6, 1.3, 1.15, 1.05, 1.0, 0.88, 0.84, 0.78, 0.74, 0.7, 0.66, 0.62, 0.58, 0.55, 0.52, 0.5, 0.48, 0.46, 0.45, 0.44, 0.43, 0.42, 0.43, 0.44, 0.45, 0.45],
    [9, 7, 2.8, 1.6, 1.3, 1.15, 1.05, 1.0, 0.86, 0.8, 0.75, 0.7, 0.65, 0.6, 0.55, 0.5, 0.47, 0.44, 0.42, 0.4, 0.39, 0.38, 0.37, 0.36, 0.35, 0.36, 0.35, 0.37, 0.38],
    [9, 9, 3, 1.7, 1.3, 1.15, 1.05, 1.0, 0.85, 0.78, 0.72, 0.66, 0.6, 0.55, 0.5, 0.45, 0.42, 0.38, 0.35, 0.32, 0.3, 0.28, 0.27, 0.26, 0.25, 0.26, 0.27, 0.28, 0.3],
    [2, 1.5, 1.2, 1.6, 1.4, 1.2, 1.5, 1.0, 1.6, 1.7, 1.5, 1.8, 1.4, 1.7, 1.3, 1.5, 1.2, 1.4, 1.1, 1.3, 1.2, 1.4, 1.1, 1.2, 1.5, 1.3, 1.9, 1.4, 1.9],
    [1.5, 0.5, 1.2, 0.5, 1.0, 0.6, 0.8, 1.0, 1.1, 1.2, 1.3, 1.0, 1.1, 0.95, 1.0, 0.9, 1.0, 0.85, 0.8, 0.75, 0.7, 0.6, 0.55, 0.5, 0.52, 0.5, 0.48, 0.45, 0.5],
    [9, 9, 4, 1.8, 1.4, 1.2, 1.1, 1.0, 0.85, 0.8, 0.72, 0.68, 0.62, 0.56, 0.5, 0.45, 0.4, 0.36, 0.32, 0.3, 0.28, 0.26, 0.24, 0.22, 0.2, 0.18, 0.19, 0.18, 0.2],
]
delve_tone = [0.66, 0.62, 0.74, 0.60, 0.62, 0.60, 0.60, 0.60, 0.58, 0.56, 0.55, 0.65, 0.72, 0.58]
delve_alpha = [0.5, 0.3, 0.6, 0.5, 0.5, 0.5, 0.85, 0.6, 0.4, 0.3, 0.3, 0.25, 0.4, 0.3]
delve_label_y = [2.39, 1.23, 0.99, 0.82, 0.74, 0.67, 0.58, 0.50, 0.41, 0.33, 0.23, nan, nan, nan]

# ---- colour bar ----
cbar_colors = [(0.0, '#0a2df7'), (0.12, '#1e62a8'), (0.2, '#2d7a78'), (0.3, '#4aa61a'),
               (0.4, '#a8c21e'), (0.48, '#ddcf20'), (0.55, '#f5c022'), (0.6, '#f5aa22'),
               (0.67, '#f29020'), (0.75, '#ea6a1e'), (0.82, '#e95a38'), (0.89, '#f66878'),
               (1.0, '#f98ef5')]
cbar_ticks = [0.979, 0.887, 0.820, 0.757, 0.667, 0.643, 0.570, 0.476, 0.407, 0.300]
cbar_labels = ['Mirror of\nKalandra', "Hinekora's\nLock", 'The\nApothecary',
               'Tattoo of the\nArohongui\nShaman', 'Divine Orb', 'Veiled Chaos\nOrb',
               'Fine Delirium\nOrb', 'Deafening\nEssence of\nAnger', 'Chaos Orb',
               'Vivid\nCrystallised\nLifeforce']

note_text = (
    "These are plots of the changing value of the thirty largest markets in each of GGG's API trade\n"
    "categories (i.e. each axis contains 30 lines corresponding to the items in that category that do the\n"
    "most business), relative to that item's price 7 days into the league (vertical dashed line),\n"
    "measured against a \"standard\" basket of one Mirror of Kalandra and eight Hinekora's Locks.  A value\n"
    "of 1.0 on the y-axis at a given time means that item can buy as many mirrors & locks at that time as\n"
    "it could on day 7. A value below 1.0 means that currency has lost value to inflation and vice versa\n"
    "for values above 1.0.  The y-axis scale is linear between 0 and 2 and becomes logarithmic above 2\n"
    "(shaded gray region).\n"
    "\n"
    "The color of the line indicates the value of one item in terms of the standard basket.  The\n"
    "transparency of each segment fades out as the market size decreases; i.e., the items making up the\n"
    "largest part of the economy have lines that are nearly opaque, and the more marginal items' lines\n"
    "become more transparent.  Selected items that do sufficient business in each category are also\n"
    "annotated at the last day in the dataset. The panels themselves also occur in the order of\n"
    "decreasing size of total business of the category (indicated in parentheses in panel headings)."
)

LABEL_COLORS = ['#9b2a9b', '#2a2ad8', '#1a1a1a']
K = 14.5 / 109.0  # height of one doubling above 2, in linear units


def fwd(y):
    y = np.asarray(y, dtype=float)
    return np.where(y <= 2, y, 2 + K * np.log2(np.maximum(y, 2) / 2))


def inv(t):
    t = np.asarray(t, dtype=float)
    return np.where(t <= 2, t, 2 * np.power(2.0, (np.maximum(t, 2) - 2) / K))


cmap = LinearSegmentedColormap.from_list('basket', cbar_colors)

panels = [
    (currency_items, currency_series, currency_tone, currency_alpha, currency_label_y),
    (cards_items, cards_series, cards_tone, cards_alpha, cards_label_y),
    (fragments_items, fragments_series, fragments_tone, fragments_alpha, fragments_label_y),
    (essences_items, essences_series, essences_tone, essences_alpha, essences_label_y),
    (ancestor_items, ancestor_series, ancestor_tone, ancestor_alpha, ancestor_label_y),
    (delirium_items, delirium_series, delirium_tone, delirium_alpha, delirium_label_y),
    (delve_items, delve_series, delve_tone, delve_alpha, delve_label_y),
]

for i, p in enumerate(panels):
    bad = [j for j, s in enumerate(p[1]) if len(s) != len(DAYS)]
    if bad or not (len(p[0]) == len(p[1]) == len(p[2]) == len(p[3]) == len(p[4])):
        raise ValueError(f'panel {panel_titles[i]}: bad rows {bad}, sizes '
                         f'{[len(q) for q in p]}')

W, H = 1080, 1125
fig = plt.figure(figsize=(W / 100, H / 100), dpi=100)

col_left = [94, 397, 701]
row_top = [87, 426, 764]
ax_w, ax_h = 252, 256

x = mdates.date2num([LEAGUE_START + timedelta(days=d) for d in DAYS])
x_day7 = mdates.date2num(LEAGUE_START + timedelta(days=7))
x_lo = mdates.date2num(LEAGUE_START) - 0.36
x_hi = x[-1] + 8.3
y_top = float(inv(2.35))
tick_dates = [LEAGUE_START + timedelta(days=1 + 3 * k) for k in range(10)]

for i, (items, series, tone, alpha, label_y) in enumerate(panels):
    r, c = divmod(i, 3)
    ax = fig.add_axes([col_left[c] / W, 1 - (row_top[r] + ax_h) / H, ax_w / W, ax_h / H])
    ax.set_yscale('function', functions=(fwd, inv))
    ax.set_xlim(x_lo, x_hi)
    ax.set_ylim(0, y_top)
    ax.set_axisbelow(True)

    ax.axhspan(2, y_top, color='#dcdcdc', zorder=0, lw=0)
    ax.set_yticks([0, 0.25, 0.5, 0.75, 1.0, 1.25, 1.5, 1.75, 2.0, 4.0, 8.0])
    ax.set_yticks(np.arange(0, 2.0, 0.05), minor=True)
    ax.yaxis.set_major_formatter(plt.FormatStrFormatter('%.2f'))
    ax.yaxis.set_minor_formatter(plt.NullFormatter())
    ax.set_xticks(mdates.date2num(tick_dates))
    ax.xaxis.set_major_formatter(mdates.DateFormatter('%b %d'))
    ax.grid(which='major', color='#c8c8c8', lw=0.8)
    ax.grid(which='minor', axis='y', color='#e6e6e6', lw=0.6)
    ax.tick_params(axis='x', labelrotation=90, labelsize=8.5, length=4)
    ax.tick_params(axis='y', which='major', labelsize=8.5, length=4)
    ax.tick_params(axis='y', which='minor', length=2)
    for s in ax.spines.values():
        s.set_color('#333333')
        s.set_linewidth(1.1)

    ax.axhline(1.0, color='#111111', lw=0.9, zorder=2)
    ax.axvline(x_day7, color='#888888', ls='--', lw=0.8, zorder=2)

    for vals, t, a in zip(series, tone, alpha):
        ax.plot(x, vals, color=cmap(t), alpha=a, lw=1.0, zorder=3)

    # annotate labelled items at the last day, colours cycle top to bottom
    labelled = [(ly, name, vals[-1]) for name, vals, ly in zip(items, series, label_y) if name]
    labelled.sort(key=lambda q: -q[0])
    for k, (ly, name, end) in enumerate(labelled):
        col = LABEL_COLORS[(k + label_offsets[i]) % 3]
        ax.plot([x[-1], x_hi], [end, ly], color=col, ls=(0, (2.2, 1.8)), lw=0.8, zorder=4)
        ax.text(x_hi - 0.15, ly, name, ha='right', va='bottom', fontsize=6.2, color=col, zorder=5)

    ax.set_title(f'{panel_titles[i]} ({panel_shares[i]})', fontsize=10, fontweight='bold', pad=5)

# colour bar
cax = fig.add_axes([973 / W, 1 - 1020 / H, 14 / W, 932 / H])
cb = fig.colorbar(ScalarMappable(norm=Normalize(0, 1), cmap=cmap), cax=cax)
cb.set_ticks(cbar_ticks)
cb.set_ticklabels(cbar_labels)
cb.ax.tick_params(labelsize=8.2, length=5)
cb.outline.set_linewidth(1.0)

fig.text(503 / W, 1 - 33 / H, 'POE1 v3.28', ha='center', va='center', fontsize=18)
fig.text(30 / W, 1 - 553 / H, 'Value relative to day 7 value of same item', rotation=90,
         ha='center', va='center', fontsize=14)
fig.text(502 / W, 1 - 1096 / H, 'Time (UTC)', ha='center', va='center', fontsize=14)
fig.text(437 / W, 1 - 765 / H, note_text, ha='left', va='top', fontsize=7.7, linespacing=1.25)

fig.savefig('out.png', dpi=100)
plt.close(fig)
